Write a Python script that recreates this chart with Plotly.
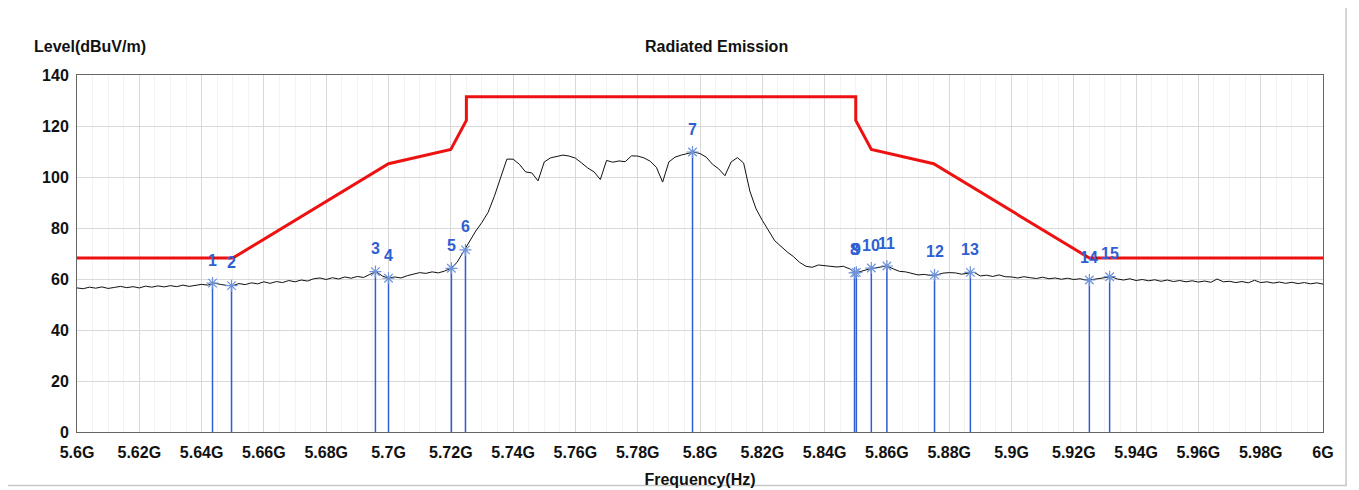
import plotly.graph_objects as go

# ---------------- data ----------------
FREQ_START = 5.600   # GHz
FREQ_STOP = 6.000    # GHz

# measured level (dBuV/m), sweep points every 2 MHz from 5.600 to 6.000 GHz
LEVELS = [
    56.5, 56.2, 56.8, 56.4, 56.9, 56.3, 56.7, 57.1, 56.6, 57.0,   # 5.600
    56.5, 57.2, 56.8, 57.3, 56.9, 57.4, 57.0, 57.6, 57.1, 57.5,   # 5.620
    57.9, 57.6, 58.4, 57.9, 57.5, 57.4, 58.2, 57.8, 58.5, 58.1,   # 5.640
    58.9, 58.3, 59.0, 58.6, 59.4, 58.9, 59.6, 59.2, 60.1, 60.4,   # 5.660
    59.8, 60.5, 60.0, 60.8, 60.3, 61.0, 60.6, 61.8, 62.9, 61.2,   # 5.680
    60.3, 60.8, 60.4, 61.3, 62.0, 62.5, 62.2, 62.8, 62.4, 63.1,   # 5.700
    64.2, 66.5, 70.6, 74.8, 78.8, 82.2, 86.2, 92.5, 100.0, 107.0,  # 5.720
    107.0, 105.0, 102.0, 101.6, 98.5, 105.9, 107.5, 108.0, 108.6, 108.2,  # 5.740
    107.4, 105.5, 103.5, 102.0, 99.0, 106.5, 105.8, 106.3, 106.0, 108.3,  # 5.760
    108.2, 107.5, 106.2, 103.8, 98.0, 105.9, 107.8, 108.6, 109.2, 109.8,  # 5.780
    109.2, 107.8, 105.0, 103.2, 100.5, 105.9, 107.6, 105.5, 94.5, 87.5,   # 5.800
    83.0, 79.0, 75.0, 72.8, 70.6, 68.8, 66.5, 65.0, 64.6, 65.5,   # 5.820
    65.2, 65.0, 64.7, 65.0, 64.0, 62.4, 63.2, 63.8, 64.3, 64.6,   # 5.840
    65.1, 64.0, 63.0, 62.8, 62.2, 61.6, 61.8, 61.4, 61.6, 62.3,   # 5.860
    62.5, 62.4, 61.9, 62.2, 62.6, 61.2, 61.5, 61.0, 61.6, 60.9,   # 5.880
    60.8, 60.4, 60.9, 60.5, 60.2, 60.7, 60.1, 60.4, 59.9, 60.3,   # 5.900
    59.8, 60.1, 59.6, 59.8, 60.2, 60.6, 60.9, 60.0, 59.6, 60.1,   # 5.920
    59.4, 59.8, 59.3, 59.7, 59.1, 59.6, 59.0, 59.4, 58.9, 59.3,   # 5.940
    58.8, 59.2, 58.7, 60.0, 58.9, 59.1, 58.6, 59.0, 58.5, 59.5,   # 5.960
    58.6, 58.9, 58.4, 58.8, 58.3, 58.7, 58.2, 58.6, 58.1, 58.5,   # 5.980
    58.0,                                                          # 6.000
]

# limit line
LIMIT_FREQ = [5.600, 5.650, 5.700, 5.720, 5.725, 5.725, 5.850, 5.850, 5.855, 5.875, 5.925, 6.000]
LIMIT_LEVEL = [68.2, 68.2, 105.2, 110.8, 122.2, 131.5, 131.5, 122.2, 110.8, 105.2, 68.2, 68.2]

# markers
MARKER_NO = [str(i) for i in range(1, 16)]
MARKER_FREQ = [5.6435, 5.6496, 5.6958, 5.7000, 5.7202, 5.7247, 5.7976, 5.8496,
               5.8502, 5.8550, 5.8600, 5.8753, 5.8868, 5.9250, 5.9315]
MARKER_LEVEL = [58.4, 57.4, 62.9, 60.3, 64.2, 71.4, 109.8, 62.4,
                62.6, 64.3, 65.1, 61.6, 62.6, 59.6, 60.9]

X_TICK_LABELS = ["5.6G", "5.62G", "5.64G", "5.66G", "5.68G", "5.7G", "5.72G", "5.74G",
                 "5.76G", "5.78G", "5.8G", "5.82G", "5.84G", "5.86G", "5.88G", "5.9G",
                 "5.92G", "5.94G", "5.96G", "5.98G", "6G"]
Y_TICKS = [0, 20, 40, 60, 80, 100, 120, 140]

# ---------------- figure ----------------
n = len(LEVELS)
step = (FREQ_STOP - FREQ_START) / (n - 1)
freqs = [FREQ_START + i * step for i in range(n)]

FONT = "Liberation Sans, Arial, sans-serif"
BLUE = "#2f5fd0"
STAR = "#6f93d8"

fig = go.Figure()

# marker drop lines
vx, vy = [], []
for f, lv in zip(MARKER_FREQ, MARKER_LEVEL):
    vx += [f, f, None]
    vy += [0, lv, None]
fig.add_trace(go.Scatter(x=vx, y=vy, mode="lines",
                         line=dict(color=BLUE, width=1.5), hoverinfo="skip"))

# limit
fig.add_trace(go.Scatter(x=LIMIT_FREQ, y=LIMIT_LEVEL, mode="lines",
                         line=dict(color="#ee1111", width=3)))

# trace
fig.add_trace(go.Scatter(x=freqs, y=LEVELS, mode="lines",
                         line=dict(color="#111111", width=1)))

# marker stars
fig.add_trace(go.Scatter(x=MARKER_FREQ, y=MARKER_LEVEL, mode="markers",
                         marker=dict(symbol="asterisk-open", size=10, color=STAR,
                                     line=dict(color=STAR, width=1.2))))

# marker numbers
for no, f, lv in zip(MARKER_NO, MARKER_FREQ, MARKER_LEVEL):
    fig.add_annotation(x=f, y=lv, text="<b>%s</b>" % no, showarrow=False,
                       yshift=23, xanchor="center", yanchor="middle",
                       font=dict(family=FONT, size=16, color=BLUE))

# title and y label
fig.add_annotation(xref="paper", yref="paper", x=0.5136, y=1.081,
                   text="<b>Radiated Emission</b>", showarrow=False,
                   xanchor="center", yanchor="middle",
                   font=dict(family=FONT, size=16, color="#111111"))
fig.add_annotation(xref="paper", yref="paper", x=-0.0361, y=1.081,
                   text="<b>Level(dBuV/m)</b>", showarrow=False,
                   xanchor="left", yanchor="middle",
                   font=dict(family=FONT, size=16, color="#111111"))

# outer frame
fig.add_shape(type="rect", xref="paper", yref="paper",
              x0=-0.056, x1=1.0185, y0=-0.15, y1=1.196,
              line=dict(color="#c8c8c8", width=1.5), layer="below")

x_tick_vals = [float(t[:-1]) for t in X_TICK_LABELS]

# page body has an 8px margin; size the figure so the plot box lands where the reference has it
fig.update_layout(
    width=1351, height=482,
    margin=dict(l=69, r=36, t=67, b=58),
    paper_bgcolor="white", plot_bgcolor="white",
    showlegend=False,
    font=dict(family=FONT, size=16, color="#111111"),
    xaxis=dict(
        range=[FREQ_START, FREQ_STOP],
        automargin=False,
        tickmode="array", tickvals=x_tick_vals,
        ticktext=["<b>%s</b>" % t for t in X_TICK_LABELS],
        showgrid=True, gridcolor="#d9d9d9", gridwidth=1,
        minor=dict(dtick=0.005, showgrid=True, gridcolor="#f3f3f3", gridwidth=1),
        showline=True, linecolor="#666666", linewidth=1, mirror=True,
        zeroline=False, ticks="",
        ticklabelstandoff=6,
        title=dict(text="<b>Frequency(Hz)</b>", standoff=13,
                   font=dict(family=FONT, size=16, color="#111111")),
        tickfont=dict(family=FONT, size=16, color="#111111"),
    ),
    yaxis=dict(
        range=[0, 140],
        automargin=False,
        tickmode="array", tickvals=Y_TICKS,
        ticktext=["<b>%d</b>" % v for v in Y_TICKS],
        showgrid=True, gridcolor="#d9d9d9", gridwidth=1,
        showline=True, linecolor="#666666", linewidth=1, mirror=True,
        zeroline=False, ticks="",
        tickfont=dict(family=FONT, size=16, color="#111111"),
        ticklabelstandoff=4,
    ),
)

fig.write_html("out.html", config={"displayModeBar": False})
